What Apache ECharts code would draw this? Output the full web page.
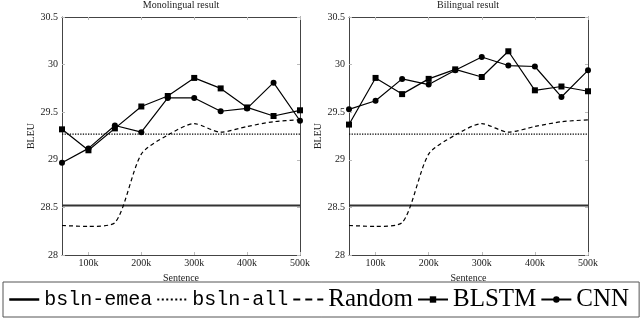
<!DOCTYPE html>
<html><head><meta charset="utf-8">
<script src="https://cdn.jsdelivr.net/npm/echarts@6/dist/echarts.min.js"></script>
<style>html,body{margin:0;padding:0;background:#fff}#c{width:640px;height:319px}</style>
</head><body><div id="c"></div>
<script>
const sentences = [50, 100, 150, 200, 250, 300, 350, 400, 450, 500];
const xTicks = [100, 200, 300, 400, 500];
const yTicks = [28, 28.5, 29, 29.5, 30, 30.5];
const bslnEmea = 28.52;
const bslnAll = 29.27;
const randomVals = [28.31, 28.30, 28.34, 29.06, 29.26, 29.38, 29.29, 29.35, 29.40, 29.42];
const monoBLSTM = [29.32, 29.10, 29.33, 29.56, 29.67, 29.86, 29.75, 29.55, 29.46, 29.52];
const monoCNN = [28.97, 29.12, 29.36, 29.29, 29.65, 29.65, 29.51, 29.54, 29.81, 29.41];
const biBLSTM = [29.37, 29.86, 29.69, 29.85, 29.95, 29.87, 30.14, 29.73, 29.77, 29.72];
const biCNN = [29.53, 29.62, 29.85, 29.79, 29.94, 30.08, 29.99, 29.98, 29.66, 29.94];
const titles = ['Monolingual result', 'Bilingual result'];
const legendNames = ['bsln-emea', 'bsln-all', 'Random', 'BLSTM', 'CNN'];

const serif = 'Liberation Serif';
const mono = 'Liberation Mono';
const frame = '#444';
const tickC = '#bbb';

const grids = [
  {left: 62, right: 340, top: 17, bottom: 64},
  {left: 349, right: 52, top: 17, bottom: 64}
];
function pair(xs, ys) { return xs.map((x, i) => [x, ys[i]]); }
const xAxes = [], yAxes = [], series = [];
[0, 1].forEach(g => {
  xAxes.push({
    type: 'value', gridIndex: g, min: 50, max: 500, position: 'bottom',
    name: 'Sentence', nameLocation: 'middle', nameGap: 13,
    nameTextStyle: {fontFamily: serif, fontSize: 10, color: '#222'},
    axisLine: {lineStyle: {color: frame, width: 1}},
    axisTick: {inside: true, length: 3, lineStyle: {color: tickC}, customValues: xTicks},
    axisLabel: {customValues: xTicks, formatter: v => v + 'k', fontFamily: serif, fontSize: 10, color: '#222', margin: 3},
    splitLine: {show: false}
  });
  xAxes.push({
    type: 'value', gridIndex: g, min: 50, max: 500, position: 'top',
    axisLine: {lineStyle: {color: frame, width: 1}},
    axisTick: {inside: true, length: 3, lineStyle: {color: tickC}, customValues: xTicks},
    axisLabel: {show: false}, splitLine: {show: false}
  });
  yAxes.push({
    type: 'value', gridIndex: g, min: 28, max: 30.5, interval: 0.5, position: 'left',
    name: 'BLEU', nameLocation: 'middle', nameGap: 24,
    nameTextStyle: {fontFamily: serif, fontSize: 10, color: '#222'},
    axisLine: {show: true, lineStyle: {color: frame, width: 1}},
    axisTick: {show: true, inside: true, length: 3, lineStyle: {color: tickC}},
    axisLabel: {fontFamily: serif, fontSize: 10, color: '#222', margin: 4, formatter: v => String(v)},
    splitLine: {show: false}
  });
  yAxes.push({
    type: 'value', gridIndex: g, min: 28, max: 30.5, interval: 0.5, position: 'right',
    axisLine: {show: true, lineStyle: {color: frame, width: 1}},
    axisTick: {show: true, inside: true, length: 3, lineStyle: {color: tickC}},
    axisLabel: {show: false}, splitLine: {show: false}
  });
  const xi = g * 2, yi = g * 2;
  const bl = g === 0 ? monoBLSTM : biBLSTM;
  const cn = g === 0 ? monoCNN : biCNN;
  series.push({
    name: 'bsln-emea', type: 'line', xAxisIndex: xi, yAxisIndex: yi, symbol: 'none',
    data: [[50, bslnEmea], [500, bslnEmea]], lineStyle: {color: '#333', width: 2}, itemStyle: {color: '#333'}, z: 2
  });
  series.push({
    name: 'bsln-all', type: 'line', xAxisIndex: xi, yAxisIndex: yi, symbol: 'none',
    data: [[50, bslnAll], [500, bslnAll]], lineStyle: {color: '#000', width: 1.2, type: [1.3, 1.3]}, itemStyle: {color: '#000'}, z: 2
  });
  series.push({
    name: 'Random', type: 'line', xAxisIndex: xi, yAxisIndex: yi, symbol: 'none', smooth: 0.25,
    data: pair(sentences, randomVals), lineStyle: {color: '#000', width: 1.2, type: [4, 3]}, itemStyle: {color: '#000'}, z: 2
  });
  series.push({
    name: 'BLSTM', type: 'line', xAxisIndex: xi, yAxisIndex: yi, symbol: 'rect', symbolSize: 6,
    data: pair(sentences, bl), lineStyle: {color: '#000', width: 1.2}, itemStyle: {color: '#000'}, z: 3
  });
  series.push({
    name: 'CNN', type: 'line', xAxisIndex: xi, yAxisIndex: yi, symbol: 'circle', symbolSize: 6,
    data: pair(sentences, cn), lineStyle: {color: '#000', width: 1.2}, itemStyle: {color: '#000'}, z: 3
  });
});

const legendLine = [
  {color: '#000', width: 2.5},
  {color: '#000', width: 2, type: [2, 2.5]},
  {color: '#000', width: 2, type: [7, 5]}
];

const chart = echarts.init(document.getElementById('c'), null, {renderer: 'canvas'});
chart.setOption({
  animation: false,
  backgroundColor: '#fff',
  title: [
    {text: titles[0], left: 181, top: 0, textAlign: 'center', padding: 0, textStyle: {fontFamily: serif, fontSize: 10, fontWeight: 'normal', color: '#222'}},
    {text: titles[1], left: 468, top: 0, textAlign: 'center', padding: 0, textStyle: {fontFamily: serif, fontSize: 10, fontWeight: 'normal', color: '#222'}}
  ],
  grid: grids,
  xAxis: xAxes,
  yAxis: yAxes,
  legend: {
    left: 3, top: 282, orient: 'horizontal',
    padding: [5, 10, 5, 5],
    borderColor: '#555', borderWidth: 1,
    itemWidth: 30, itemHeight: 8, itemGap: 4,
    selectedMode: false,
    data: legendNames.map((n, i) => i < 3
      ? {name: n, itemStyle: {opacity: 0}, lineStyle: legendLine[i]}
      : {name: n, lineStyle: {color: '#000', width: 2}}),
    formatter: n => (n.startsWith('bsln') ? '{m|' + n + '}' : '{s|' + n + '}'),
    textStyle: {
      color: '#000',
      rich: {
        m: {fontFamily: mono, fontSize: 20, color: '#000', lineHeight: 24},
        s: {fontFamily: serif, fontSize: 25, color: '#000', lineHeight: 24}
      }
    }
  },
  series: series
});
</script></body></html>
